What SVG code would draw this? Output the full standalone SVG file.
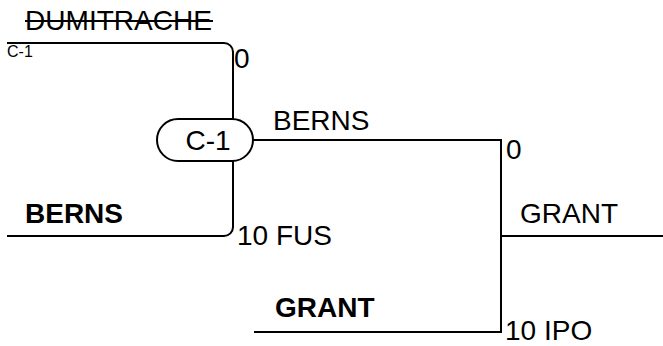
<svg xmlns="http://www.w3.org/2000/svg" width="663" height="346" viewBox="0 0 663 346">
<style>
.ln{fill:none;stroke:#000;stroke-width:2}
.t{font-family:"Liberation Sans",Arial,sans-serif;font-size:28px;fill:#000}
.b{font-weight:bold}
.s{font-size:16px}
</style>
<rect width="663" height="346" fill="#fff"/>
<g id="connectors">
<path class="ln" d="M7,43 H224 A9,9 0 0 1 233,52 V119"/>
<path class="ln" d="M7,236 H224 A9,9 0 0 0 233,227 V161"/>
<path class="ln" d="M253,140 H501 V332 H254"/>
<path class="ln" d="M501,236 H663"/>
</g>
<g id="dumitrache">
<text class="t" x="25" y="30" textLength="187" lengthAdjust="spacingAndGlyphs">DUMITRACHE</text>
<line x1="25" y1="21" x2="213" y2="21" stroke="#000" stroke-width="2"/>
<text class="t s" x="7" y="57">C-1</text>
<text class="t" x="234" y="68">0</text>
</g>
<g id="c1">
<rect x="157" y="119" width="96" height="42" rx="21" fill="#fff" stroke="#000" stroke-width="2"/>
<text class="t" x="208" y="150" text-anchor="middle">C-1</text>
</g>
<g id="berns">
<text class="t b" x="25" y="223">BERNS</text>
<text class="t" x="237" y="245">10 FUS</text>
</g>
<g id="berns-result">
<text class="t" x="273" y="130">BERNS</text>
<text class="t" x="506" y="159">0</text>
</g>
<g id="grant">
<text class="t b" x="275" y="317">GRANT</text>
<text class="t" x="505" y="340">10 IPO</text>
</g>
<g id="grant-result">
<text class="t" x="520" y="223">GRANT</text>
</g>
</svg>
